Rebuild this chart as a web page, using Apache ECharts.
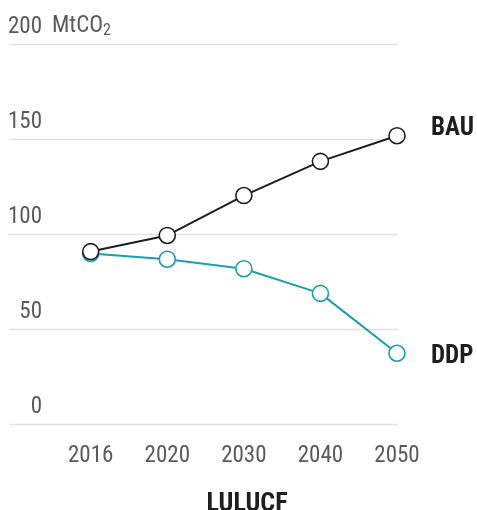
<!DOCTYPE html>
<html>
<head>
<meta charset="utf-8">
<script src="https://cdn.jsdelivr.net/npm/echarts@6/dist/echarts.min.js"></script>
<style>
  html, body { margin: 0; padding: 0; background: #fff; }
  #chart { width: 477px; height: 510px; }
</style>
</head>
<body>
<div id="chart"></div>
<script>
// Land use, land-use change and forestry emissions, MtCO2
const years = ['2016', '2020', '2030', '2040', '2050'];
const bau = [91, 99.5, 120.5, 138.5, 152];
const ddp = [90, 87, 82, 69, 37.5];
const yTicks = [0, 50, 100, 150, 200];

const FONT = "'Roboto Condensed', 'Liberation Sans Narrow', 'Arial Narrow', Roboto, sans-serif";
const TEXT = '#5a5a5a';
const BAU_COLOR = '#1e1e1e';
const DDP_COLOR = '#17a0b1';

const chart = echarts.init(document.getElementById('chart'), null, { renderer: 'canvas' });

function lineSeries(name, data, color, labelOffset) {
  return {
    name: name,
    type: 'line',
    xAxisIndex: 1,
    yAxisIndex: 1,
    data: data,
    symbol: 'circle',
    symbolSize: 16,
    showAllSymbol: true,
    lineStyle: { color: color, width: 2 },
    itemStyle: { color: '#fff', borderColor: color, borderWidth: 1.6 },
    emphasis: { disabled: true },
    endLabel: {
      show: true,
      formatter: '{a}',
      distance: 34,
      offset: labelOffset,
      fontFamily: FONT,
      fontWeight: 'bold',
      fontSize: 25,
      color: '#1e1e1e'
    },
    z: 3
  };
}

chart.setOption({
  animation: false,
  grid: [
    // background grid: horizontal rules and value labels
    { left: 9, right: 79, top: 44.5, bottom: 85.5 },
    // data grid: first and last year aligned with the points
    { left: 90.7, right: 80, top: 44.5, bottom: 85.5 }
  ],
  xAxis: [
    { gridIndex: 0, type: 'category', data: years, show: false },
    {
      gridIndex: 1,
      type: 'category',
      data: years,
      boundaryGap: false,
      axisLine: { show: false },
      axisTick: { show: false },
      axisLabel: {
        margin: 20,
        fontFamily: FONT,
        fontSize: 23,
        color: TEXT
      }
    }
  ],
  yAxis: [
    {
      gridIndex: 0,
      type: 'value',
      min: yTicks[0],
      max: yTicks[yTicks.length - 1],
      interval: 50,
      axisLine: { show: false },
      axisTick: { show: false },
      splitLine: { lineStyle: { color: '#e2e2e2', width: 1.3 } },
      axisLabel: {
        inside: true,
        align: 'right',
        verticalAlign: 'bottom',
        margin: 33,
        padding: [0, 0, 6, 0],
        fontFamily: FONT,
        fontSize: 23,
        color: TEXT,
        formatter: function (v) { return yTicks.indexOf(v) >= 0 ? String(v) : ''; }
      },
      name: '{u|MtCO}{s|2}',
      nameLocation: 'end',
      nameGap: 6,
      nameTextStyle: {
        align: 'left',
        verticalAlign: 'bottom',
        padding: [0, 0, 0, 43],
        rich: {
          u: { fontFamily: FONT, fontSize: 23, color: TEXT },
          s: { fontFamily: FONT, fontSize: 16, color: TEXT, padding: [8, 0, 0, 0] }
        }
      }
    },
    {
      gridIndex: 1,
      type: 'value',
      min: yTicks[0],
      max: yTicks[yTicks.length - 1],
      interval: 50,
      show: false
    }
  ],
  title: {
    text: 'LULUCF',
    left: 242,
    textAlign: 'center',
    top: 486,
    textStyle: {
      fontFamily: FONT,
      fontWeight: 'bold',
      fontSize: 26,
      color: '#1e1e1e'
    }
  },
  series: [
    lineSeries('DDP', ddp, DDP_COLOR, [0, 3]),
    lineSeries('BAU', bau, BAU_COLOR, [0, -7])
  ]
});
</script>
</body>
</html>
